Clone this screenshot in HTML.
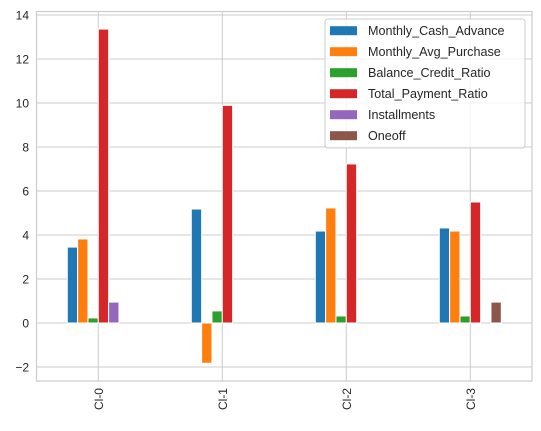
<!DOCTYPE html>
<html><head><meta charset="utf-8"><style>
body{margin:0;background:#fff}
text{font-family:"Liberation Sans",sans-serif;fill:#262626}
</style></head><body>
<svg id="chart" width="541" height="426" xmlns="http://www.w3.org/2000/svg">
<g id="grid"></g>
<g id="bars"></g>
<rect x="36.5" y="11.5" width="495.5" height="369.5" fill="none" stroke="#ccc" stroke-width="1.2"/>
<g id="yticks"></g>
<g id="xticks"></g>
<g id="legend"></g>
</svg>
<script>
const categories=["Cl-0","Cl-1","Cl-2","Cl-3"];
const seriesNames=["Monthly_Cash_Advance","Monthly_Avg_Purchase","Balance_Credit_Ratio","Total_Payment_Ratio","Installments","Oneoff"];
const colors=["#1f77b4","#ff7f0e","#2ca02c","#d62728","#9467bd","#8c564b"];
const monthlyCashAdvance=[3.45,5.18,4.18,4.32];
const monthlyAvgPurchase=[3.82,-1.83,5.23,4.18];
const balanceCreditRatio=[0.23,0.55,0.32,0.32];
const totalPaymentRatio=[13.36,9.89,7.23,5.5];
const installments=[0.95,0,0,0];
const oneoff=[0,0,0,0.95];
const yTicks=[-2,0,2,4,6,8,10,12,14];
const series=[monthlyCashAdvance,monthlyAvgPurchase,balanceCreditRatio,totalPaymentRatio,installments,oneoff];
const NS="http://www.w3.org/2000/svg";
const y=v=>323-v*22;
const xc=i=>98.3+i*124;
function mk(t,a,p){const e=document.createElementNS(NS,t);for(const k in a)e.setAttribute(k,a[k]);p.appendChild(e);return e;}
const grid=document.getElementById('grid'),bars=document.getElementById('bars'),yt=document.getElementById('yticks'),xt=document.getElementById('xticks'),lg=document.getElementById('legend');
yTicks.forEach(v=>{
 const l=mk('line',{x1:36.5,x2:532,y1:y(v),y2:y(v),stroke:'#ccc','stroke-width':1},grid);
 
 
 const t=mk('text',{x:29,y:y(v)+4.5,'text-anchor':'end','font-size':12},yt);
 t.textContent=v<0?'\u2212'+Math.abs(v):String(v);
 
 
});
categories.forEach((c,i)=>{
 const l=mk('line',{x1:xc(i),x2:xc(i),y1:11.5,y2:381,stroke:'#ccc','stroke-width':1},grid);
 
 
 const t=mk('text',{x:0,y:0,'text-anchor':'end','font-size':12,transform:`translate(${xc(i)+4.5},388) rotate(-90)`},xt);
 t.textContent=c;
 
 
});
const bw=124*0.5/6;
series.forEach((s,j)=>{
 s.forEach((v,i)=>{
  const x0=xc(i)-31+j*bw;
  const r=mk('rect',{x:x0,y:Math.min(y(v),y(0)),width:bw,height:Math.abs(y(v)-y(0)),fill:colors[j],stroke:'#fff','stroke-width':1},bars);
  
  
 });
});
const box=mk('rect',{x:325,y:19,width:200,height:129,rx:3,fill:'#fff','fill-opacity':0.8,stroke:'#ccc'},lg);


seriesNames.forEach((n,j)=>{
 const cy=30.7+j*21;
 const g=mk('g',{},lg);
 
 
 mk('rect',{x:330,y:cy-4.5,width:27,height:9,fill:colors[j]},g);
 const t=mk('text',{x:368,y:cy+4.5,'font-size':12.6},g);
 t.textContent=n;
});
</script>
</body></html>
